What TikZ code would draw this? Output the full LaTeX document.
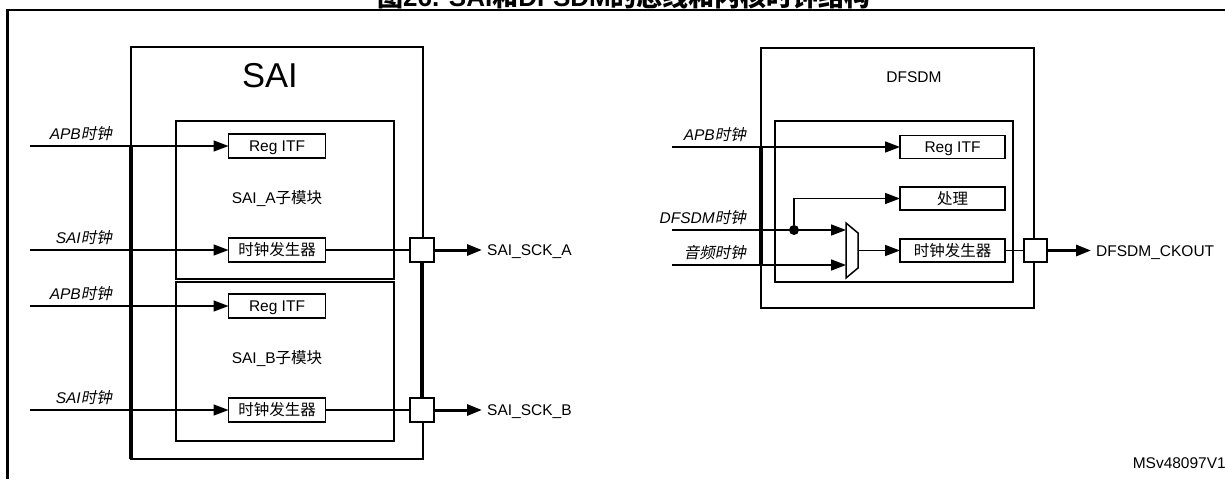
\documentclass[tikz,border=0pt]{standalone}
\usepackage{fontspec}
\setmainfont{Liberation Sans}
\newfontfamily\cjk{Noto Sans CJK SC}
\newfontfamily\cjkit{Noto Sans CJK SC}[FakeSlant=0.2]
\newcommand{\zh}[1]{{\cjk #1}}
\newcommand{\zhit}[1]{{\cjkit #1}}
\newcommand{\fs}{\fontsize{15.5}{18}\selectfont}
\usetikzlibrary{arrows.meta, positioning}

\begin{document}
\begin{tikzpicture}[x=1pt, y=-1pt,
    box/.style={draw, line width=1.5pt, inner sep=0pt, outer sep=0pt},
    unit/.style={box, minimum width=97pt, minimum height=24pt, font=\fs,
                 text height=11pt, text depth=0pt},
    port/.style={box, fill=white, minimum size=24pt},
    txt/.style={font=\fs, inner sep=0pt, text height=11pt, text depth=0pt},
    clk/.style={font=\fs\itshape, inner sep=0pt, anchor=base east},
    wire/.style={line width=1.5pt},
    sig/.style={wire, -{Triangle[length=15pt, width=11pt]}},
    bus/.style={line width=3.5pt},
    outsig/.style={line width=3pt, -{Triangle[length=15pt, width=11pt]}, shorten >=5pt}
]
    \useasboundingbox (0,0) rectangle (1225,479);

    % --- Caption and frame ---
    \node[font=\fontsize{26}{30}\selectfont\bfseries, anchor=base, inner sep=0pt] (title) at (624,6)
        {{\cjk\bfseries 图}26. SAI{\cjk\bfseries 和}DFSDM{\cjk\bfseries 的总线和内核时钟结构}};
    \draw[line width=2.6pt] (7.5,479) -- (7.5,10) -- (1226,10);
    \node[txt, anchor=east] (msv) at (1226,463) {MSv48097V1};

    % --- SAI block ---
    \node[box, minimum width=292pt, minimum height=412pt] (sai) at (277,253) {};
    \node[txt, font=\fontsize{34.5}{40}\selectfont, text height=25pt, anchor=base] (sainame) at (270,87) {SAI};
    \node[box, minimum width=218pt, minimum height=158pt] (subA) at (285,200) {};
    \node[box, minimum width=218pt, minimum height=159pt] (subB) at (285,361.5) {};

    \node[unit] (regA) at (277,146) {Reg ITF};
    \node[txt]  (nameA) at (277,198) {SAI\_A\zh{子模块}};
    \node[unit] (genA) at (277,250) {\zh{时钟发生器}};
    \node[unit] (regB) at (277,306) {Reg ITF};
    \node[txt]  (nameB) at (277,358) {SAI\_B\zh{子模块}};
    \node[unit] (genB) at (277,410) {\zh{时钟发生器}};

    \node[port] (portA) at (422,250) {};
    \node[port] (portB) at (422,410) {};
    \node[txt, anchor=west] (sckA) at (487,250) {SAI\_SCK\_A};
    \node[txt, anchor=west] (sckB) at (487,410) {SAI\_SCK\_B};

    % SAI inputs
    \coordinate (apbA) at (30,146);
    \coordinate (saiA) at (30,250);
    \coordinate (apbB) at (30,306);
    \coordinate (saiB) at (30,410);
    \node[clk] (apbAl) at (112,139.5) {APB\zhit{时钟}};
    \node[clk] (saiAl) at (112,243.5) {SAI\zhit{时钟}};
    \node[clk] (apbBl) at (112,299.5) {APB\zhit{时钟}};
    \node[clk] (saiBl) at (112,403.5) {SAI\zhit{时钟}};

    \draw[sig] (apbA) -- (regA);
    \draw[sig] (saiA) -- (genA);
    \draw[sig] (apbB) -- (regB);
    \draw[sig] (saiB) -- (genB);
    \draw[bus] (sai.west |- apbA) -- (sai.south west);

    % SAI outputs
    \draw[wire] (genA) -- (portA);
    \draw[wire] (genB) -- (portB);
    \draw[bus] (portA) -- (portB);
    \draw[outsig] (portA) -- (sckA);
    \draw[outsig] (portB) -- (sckB);

    % --- DFSDM block ---
    \node[box, minimum width=273pt, minimum height=260pt] (dfsdm) at (897.5,178) {};
    \node[txt] (dfname) at (914,77) {DFSDM};
    \node[box, minimum width=238pt, minimum height=161pt] (core) at (894,201.5) {};

    \node[unit, minimum width=105pt, minimum height=23pt] (dreg)  at (952.5,147) {Reg ITF};
    \node[unit, minimum width=105pt, minimum height=23pt] (dproc) at (952.5,198.5) {\zh{处理}};
    \node[unit, minimum width=105pt, minimum height=23pt] (dgen)  at (952.5,250.5) {\zh{时钟发生器}};
    \node[port, minimum size=23pt] (dport) at (1035.5,250.5) {};
    \node[txt, anchor=west] (ckout) at (1096,250.5) {DFSDM\_CKOUT};

    % clock mux
    \draw[line width=1.5pt] (846,223) -- (858,233) -- (858,268) -- (846,278) -- cycle;
    \coordinate (muxin1) at (846,230);
    \coordinate (muxin2) at (846,265);
    \coordinate (muxout) at (858,250.5);
    \node[circle, fill, inner sep=0pt, minimum size=10pt] (tap) at (794,230) {};

    % DFSDM inputs
    \coordinate (apbD) at (672,147);
    \coordinate (dfclk) at (672,230);
    \coordinate (audclk) at (672,265);
    \node[clk] (apbDl) at (746,140.5) {APB\zhit{时钟}};
    \node[clk] (dfclkl) at (746,223.5) {DFSDM\zhit{时钟}};
    \node[clk] (audclkl) at (746,258.5) {\zhit{音频时钟}};

    \draw[sig] (apbD) -- (dreg);
    \draw[sig] (dfclk) -- (muxin1);
    \draw[sig] (audclk) -- (muxin2);
    \draw[sig] (tap) |- (dproc);
    \draw[sig] (muxout) -- (dgen);
    \draw[bus] (dfsdm.west |- apbD) -- (dfsdm.west |- audclk);

    % DFSDM output
    \draw[wire] (dgen) -- (dport);
    \draw[outsig] (dport) -- (ckout);
\end{tikzpicture}
\end{document}
